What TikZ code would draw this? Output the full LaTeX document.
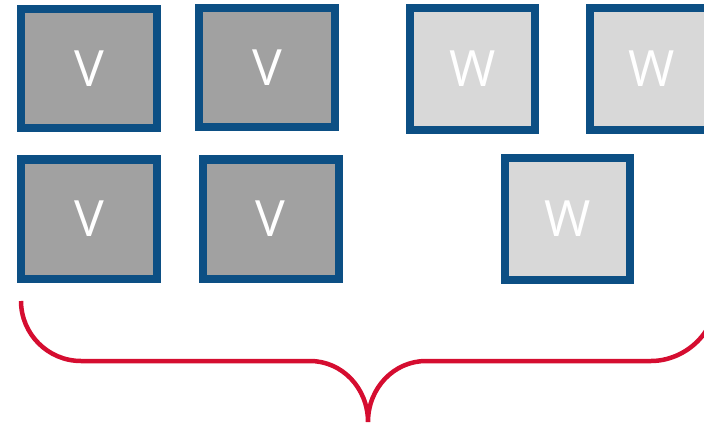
\documentclass[tikz,border=0pt]{standalone}
\usepackage{fontspec}
\setmainfont{Open Sans}
\definecolor{boxblue}{RGB}{12,79,132}
\definecolor{vgray}{RGB}{161,161,161}
\definecolor{wgray}{RGB}{216,216,216}
\definecolor{bracered}{RGB}{213,13,48}
\tikzstyle{block}=[draw=boxblue, line width=8pt, inner sep=0, outer sep=0, text=white,
                   font=\fontsize{50}{50}\selectfont]
\tikzstyle{vblock}=[block, fill=vgray, minimum width=136pt, minimum height=119pt]
\tikzstyle{wblock}=[block, fill=wgray, minimum width=125pt, minimum height=122pt]
\tikzstyle{brace}=[draw=bracered, line width=4.5pt]
\begin{document}
\begin{tikzpicture}[x=1pt, y=-1pt]
    \useasboundingbox (0, 0) rectangle (704, 425);
    \clip (0, 0) rectangle (704, 425);
    % top row
    \node[vblock] (V1) at (89, 68.5) {V};
    \node[vblock] (V2) at (267, 67.5) {V};
    \node[wblock] (W1) at (472.7, 69) {W};
    \node[wblock] (W2) at (652, 69) {W};
    % bottom row
    \node[vblock] (V3) at (89, 219) {V};
    \node[vblock] (V4) at (270.5, 219) {V};
    \node[wblock] (W3) at (567.5, 219) {W};
    % brace under both rows
    \draw[brace] (21, 301) .. controls (21, 334) and (48, 361) .. (81, 361) -- (310, 361)
        .. controls (342, 361) and (368, 388) .. (368, 422)
        .. controls (368, 388) and (394, 361) .. (426, 361) -- (651, 361)
        .. controls (684, 361) and (715, 334) .. (715, 301);
\end{tikzpicture}
\end{document}
